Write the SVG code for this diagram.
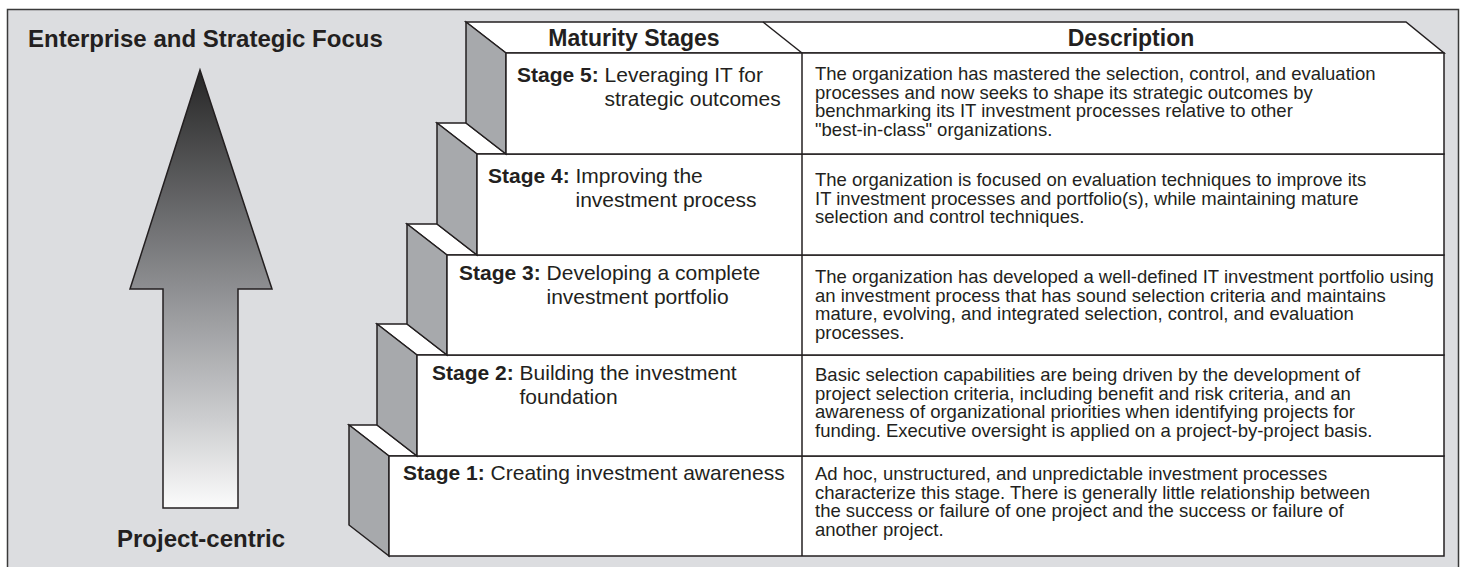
<svg xmlns="http://www.w3.org/2000/svg" width="1463" height="567" viewBox="0 0 1463 567">
  <defs>
    <linearGradient id="arrowFill" gradientUnits="userSpaceOnUse" x1="0" y1="70" x2="0" y2="508">
      <stop offset="0" stop-color="#262626"/>
      <stop offset="0.5" stop-color="#8e8f92"/>
      <stop offset="0.8" stop-color="#cdced0"/>
      <stop offset="1" stop-color="#fbfbfb"/>
    </linearGradient>
    <style>
      .frame { fill: #dcdde0; stroke: #3a3a3a; stroke-width: 1.5; }
      .face { fill: #ffffff; stroke: #231f20; stroke-width: 1.5; stroke-linejoin: miter; }
      .side { fill: #a7a9ac; stroke: #231f20; stroke-width: 1.5; stroke-linejoin: miter; }
      .rule { fill: none; stroke: #231f20; stroke-width: 1.5; }
      .arrow { fill: url(#arrowFill); stroke: #231f20; stroke-width: 1.5; }
      text { font-family: "Liberation Sans", Arial, Helvetica, sans-serif; fill: #231f20; }
      .axis { font-size: 24px; font-weight: bold; }
      .head { font-size: 23px; font-weight: bold; text-anchor: middle; }
      .label { font-size: 21px; }
      .label .b { font-weight: bold; }
      .desc { font-size: 18.5px; }
    </style>
  </defs>

  <!-- background panel -->
  <rect class="frame" x="7.5" y="9.5" width="1451" height="570"/>

  <!-- left axis: focus arrow -->
  <g id="focus-axis">
    <text class="axis" x="28" y="47">Enterprise and Strategic Focus</text>
    <polygon class="arrow" points="200,70 272,289 238,289 238,508 163,508 163,289 130,289"/>
    <text class="axis" x="201" y="547" text-anchor="middle">Project-centric</text>
  </g>

  <!-- table header (top face of the highest step) -->
  <g id="header">
    <polygon class="face" points="466,22 1406,22 1444,53 506,53"/>
    <line class="rule" x1="763" y1="22" x2="802" y2="53"/>
    <text class="head" x="634" y="46">Maturity Stages</text>
    <text class="head" x="1131" y="46">Description</text>
  </g>

  <!-- Stage 1 -->
  <g id="stage-1">
    <polygon class="face" points="349,425 377,425 417,456 389,456"/>
    <polygon class="side" points="349,425 389,456 389,556 349,525"/>
    <rect class="face" x="389" y="456" width="1055" height="100"/>
    <text class="label" x="403" y="480"><tspan class="b">Stage 1:</tspan> Creating investment awareness</text>
    <text class="desc" x="815" y="480">Ad hoc, unstructured, and unpredictable investment processes<tspan x="815" dy="18.5">characterize this stage. There is generally little relationship between</tspan><tspan x="815" dy="18.5">the success or failure of one project and the success or failure of</tspan><tspan x="815" dy="18.5">another project.</tspan></text>
  </g>

  <!-- Stage 2 -->
  <g id="stage-2">
    <polygon class="face" points="377,324 407,324 447,355 417,355"/>
    <polygon class="side" points="377,324 417,355 417,456 377,425"/>
    <rect class="face" x="417" y="355" width="1027" height="101"/>
    <text class="label" x="432" y="380"><tspan class="b">Stage 2:</tspan> Building the investment<tspan x="519.5" dy="24">foundation</tspan></text>
    <text class="desc" x="815" y="381">Basic selection capabilities are being driven by the development of<tspan x="815" dy="18.5">project selection criteria, including benefit and risk criteria, and an</tspan><tspan x="815" dy="18.5">awareness of organizational priorities when identifying projects for</tspan><tspan x="815" dy="18.5">funding. Executive oversight is applied on a project-by-project basis.</tspan></text>
  </g>

  <!-- Stage 3 -->
  <g id="stage-3">
    <polygon class="face" points="407,224 437,224 477,255 447,255"/>
    <polygon class="side" points="407,224 447,255 447,355 407,324"/>
    <rect class="face" x="447" y="255" width="997" height="100"/>
    <text class="label" x="459" y="280"><tspan class="b">Stage 3:</tspan> Developing a complete<tspan x="546.5" dy="24">investment portfolio</tspan></text>
    <text class="desc" x="815" y="283">The organization has developed a well-defined IT investment portfolio using<tspan x="815" dy="18.5">an investment process that has sound selection criteria and maintains</tspan><tspan x="815" dy="18.5">mature, evolving, and integrated selection, control, and evaluation</tspan><tspan x="815" dy="18.5">processes.</tspan></text>
  </g>

  <!-- Stage 4 -->
  <g id="stage-4">
    <polygon class="face" points="437,123 466,123 506,154 477,154"/>
    <polygon class="side" points="437,123 477,154 477,255 437,224"/>
    <rect class="face" x="477" y="154" width="967" height="101"/>
    <text class="label" x="488" y="183"><tspan class="b">Stage 4:</tspan> Improving the<tspan x="575.5" dy="24">investment process</tspan></text>
    <text class="desc" x="815" y="186">The organization is focused on evaluation techniques to improve its<tspan x="815" dy="18.5">IT investment processes and portfolio(s), while maintaining mature</tspan><tspan x="815" dy="18.5">selection and control techniques.</tspan></text>
  </g>

  <!-- Stage 5 -->
  <g id="stage-5">
    <polygon class="side" points="466,22 506,53 506,154 466,123"/>
    <rect class="face" x="506" y="53" width="938" height="101"/>
    <text class="label" x="517" y="82"><tspan class="b">Stage 5:</tspan> Leveraging IT for<tspan x="604.5" dy="24">strategic outcomes</tspan></text>
    <text class="desc" x="815" y="80">The organization has mastered the selection, control, and evaluation<tspan x="815" dy="18.5">processes and now seeks to shape its strategic outcomes by</tspan><tspan x="815" dy="18.5">benchmarking its IT investment processes relative to other</tspan><tspan x="815" dy="18.5">"best-in-class" organizations.</tspan></text>
  </g>

  <!-- column divider between stage names and descriptions -->
  <g id="connectors">
    <line class="rule" x1="802" y1="53" x2="802" y2="556"/>
  </g>
</svg>
